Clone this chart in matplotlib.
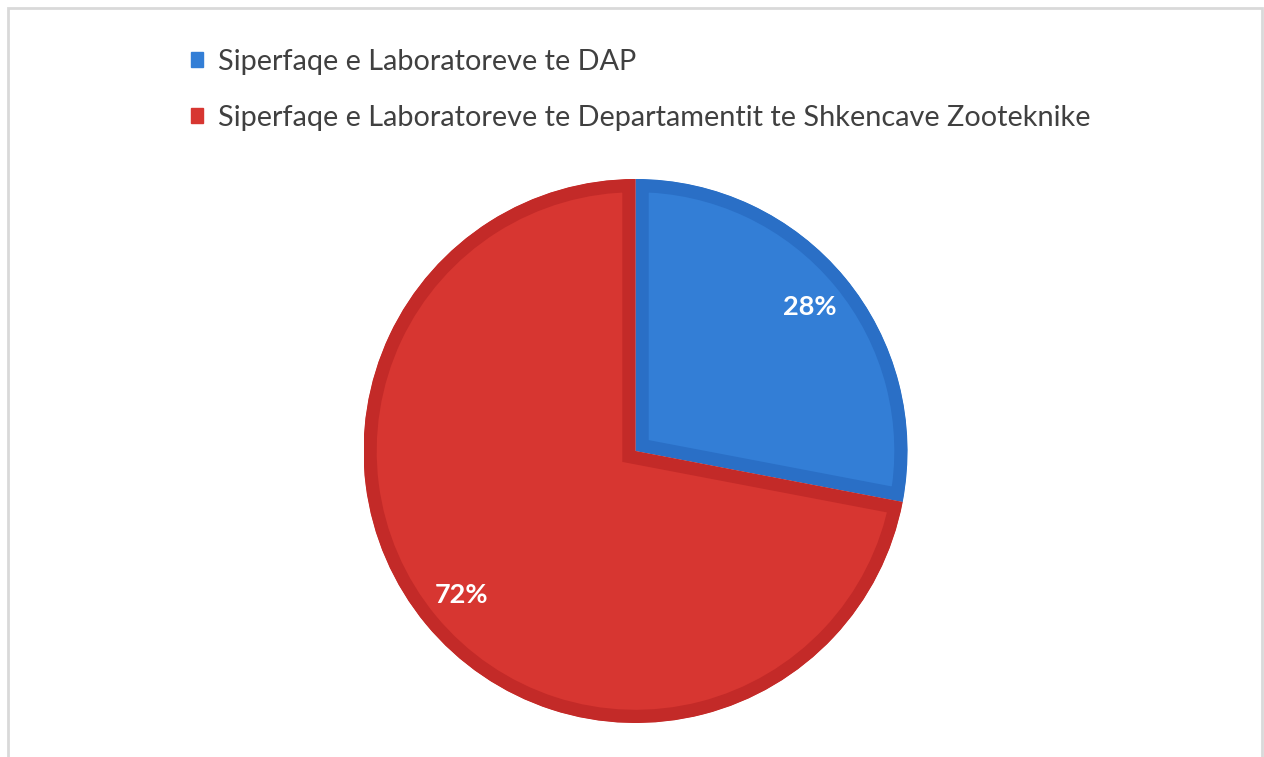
import matplotlib.pyplot as plt
from matplotlib.patches import Patch, Rectangle

labels = [
    "Siperfaqe e Laboratoreve te DAP",
    "Siperfaqe e Laboratoreve te Departamentit te Shkencave Zooteknike",
]
shares = [28, 72]
fill_colors = ["#337ED6", "#D73631"]
edge_colors = ["#2A6FC6", "#C32A28"]

W, H = 1264, 757
fig = plt.figure(figsize=(W / 100, H / 100), dpi=100)
fig.patch.set_facecolor("white")

# light grey chart frame (bottom edge is cut off in the original)
frame = Rectangle(
    (8 / W, -0.05), (1262 - 8) / W, (H - 8) / H + 0.05,
    transform=fig.transFigure, fill=False, edgecolor="#D9D9D9", linewidth=2,
)
fig.patches.append(frame)

# pie axes: centre (635, 451) px, radius 272 px
cx, cy, r = 635.5, 451, 272
ax = fig.add_axes([(cx - r) / W, (H - cy - r) / H, 2 * r / W, 2 * r / H])

wedges, texts, autotexts = ax.pie(
    shares,
    colors=fill_colors,
    startangle=90,
    counterclock=False,
    autopct="%1.0f%%",
    pctdistance=0.83,
    wedgeprops={"linewidth": 19},
    textprops={"color": "white", "fontsize": 19.5, "fontweight": "bold", "family": "Lato"},
)
for w, ec in zip(wedges, edge_colors):
    w.set_edgecolor(ec)
    # keep the stroke inside the slice
    w.set_clip_on(True)
    w.set_clip_path(w)
ax.set_xlim(-1, 1)
ax.set_ylim(-1, 1)
ax.set_aspect("equal")

handles = [Patch(facecolor=c, edgecolor=c) for c in fill_colors]
fig.legend(
    handles, labels,
    loc="upper left",
    bbox_to_anchor=(191 / W, 1 - 49 / H),
    frameon=False,
    borderpad=0,
    borderaxespad=0,
    prop={"family": "Lato", "size": 20.8},
    labelcolor="#404040",
    handlelength=0.42,
    handleheight=0.42,
    handletextpad=0.5,
    labelspacing=1.03,
)

fig.savefig("out.png", dpi=100)
